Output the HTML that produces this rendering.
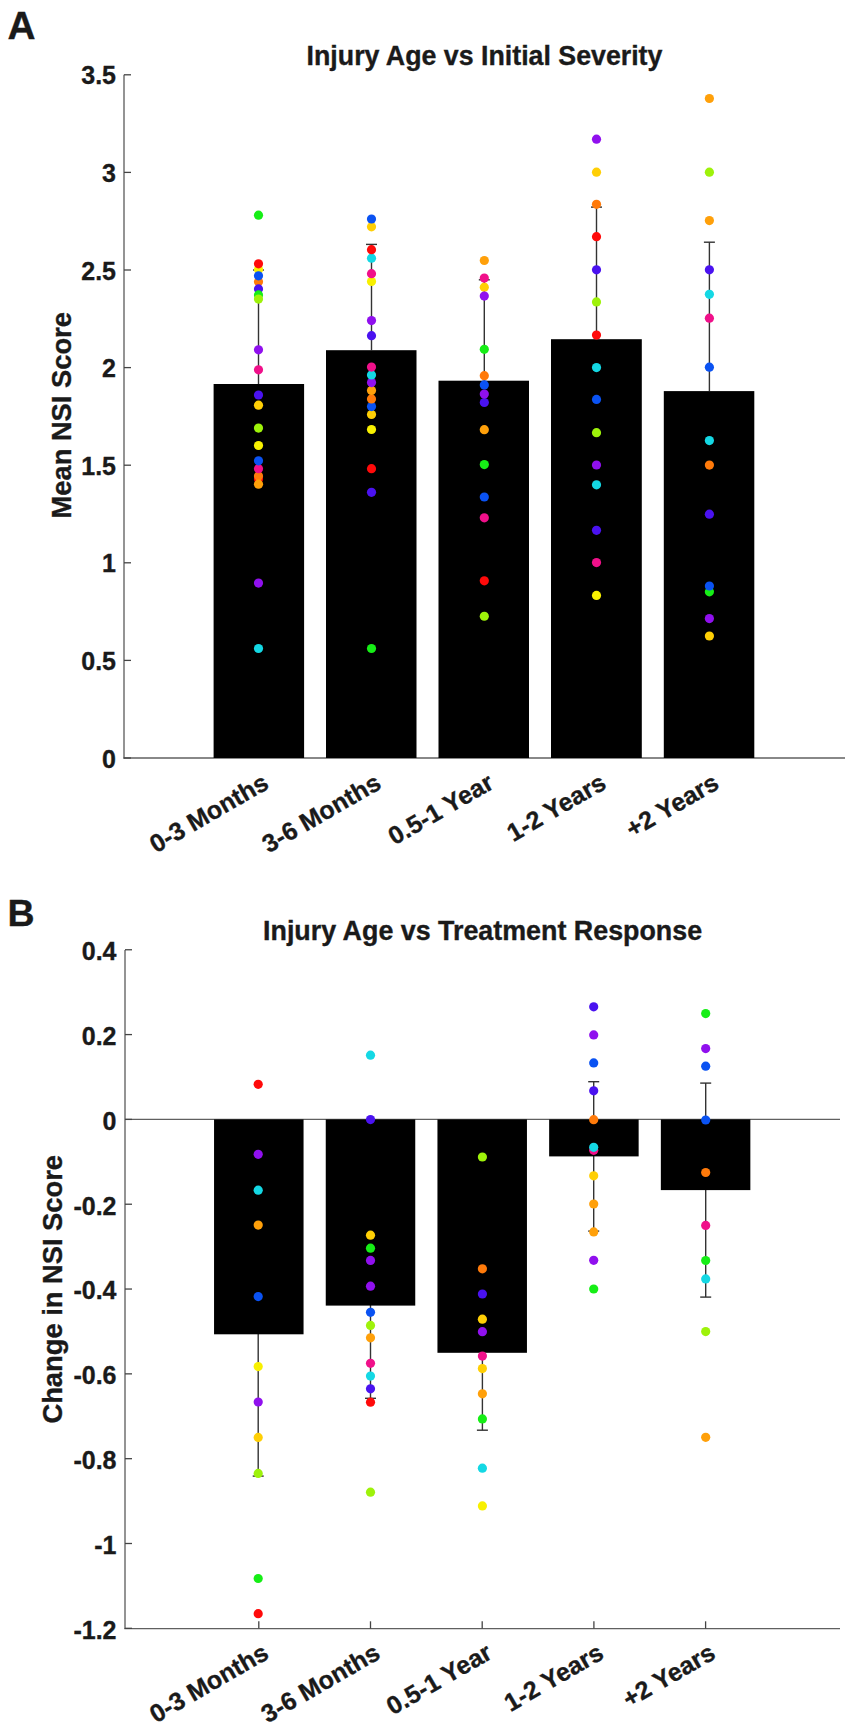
<!DOCTYPE html>
<html><head><meta charset="utf-8"><style>
html,body{margin:0;padding:0;background:#fff;}
body{width:851px;height:1728px;overflow:hidden;}
svg{display:block;}
text{font-family:"Liberation Sans",sans-serif;font-weight:bold;fill:#1a1a1a;stroke:#1a1a1a;stroke-width:0.35px;}
</style></head><body>
<svg width="851" height="1728" viewBox="0 0 851 1728">
<rect width="851" height="1728" fill="#fff"/>
<line x1="124" y1="74.8" x2="124" y2="758.5" stroke="#707070" stroke-width="1.5"/>
<line x1="123.3" y1="758.0" x2="845" y2="758.0" stroke="#606060" stroke-width="1.4"/>
<line x1="124" y1="758.0" x2="131" y2="758.0" stroke="#444" stroke-width="1.3"/>
<text x="116" y="767.6" font-size="25" text-anchor="end">0</text>
<line x1="124" y1="660.4" x2="131" y2="660.4" stroke="#444" stroke-width="1.3"/>
<text x="116" y="670.0" font-size="25" text-anchor="end">0.5</text>
<line x1="124" y1="562.8" x2="131" y2="562.8" stroke="#444" stroke-width="1.3"/>
<text x="116" y="572.4" font-size="25" text-anchor="end">1</text>
<line x1="124" y1="465.20000000000005" x2="131" y2="465.20000000000005" stroke="#444" stroke-width="1.3"/>
<text x="116" y="474.80000000000007" font-size="25" text-anchor="end">1.5</text>
<line x1="124" y1="367.6" x2="131" y2="367.6" stroke="#444" stroke-width="1.3"/>
<text x="116" y="377.20000000000005" font-size="25" text-anchor="end">2</text>
<line x1="124" y1="270.0" x2="131" y2="270.0" stroke="#444" stroke-width="1.3"/>
<text x="116" y="279.6" font-size="25" text-anchor="end">2.5</text>
<line x1="124" y1="172.4000000000001" x2="131" y2="172.4000000000001" stroke="#444" stroke-width="1.3"/>
<text x="116" y="182.00000000000009" font-size="25" text-anchor="end">3</text>
<line x1="124" y1="74.80000000000007" x2="131" y2="74.80000000000007" stroke="#444" stroke-width="1.3"/>
<text x="116" y="84.40000000000006" font-size="25" text-anchor="end">3.5</text>
<line x1="258.5" y1="270.0" x2="258.5" y2="384.0" stroke="#333" stroke-width="1.4"/>
<line x1="253.0" y1="270.0" x2="264.0" y2="270.0" stroke="#333" stroke-width="1.4"/>
<line x1="371.5" y1="244.4" x2="371.5" y2="350.2" stroke="#333" stroke-width="1.4"/>
<line x1="366.0" y1="244.4" x2="377.0" y2="244.4" stroke="#333" stroke-width="1.4"/>
<line x1="484.3" y1="279.8" x2="484.3" y2="380.7" stroke="#333" stroke-width="1.4"/>
<line x1="478.8" y1="279.8" x2="489.8" y2="279.8" stroke="#333" stroke-width="1.4"/>
<line x1="596.5" y1="207.1" x2="596.5" y2="339.2" stroke="#333" stroke-width="1.4"/>
<line x1="591.0" y1="207.1" x2="602.0" y2="207.1" stroke="#333" stroke-width="1.4"/>
<line x1="709.4" y1="242.2" x2="709.4" y2="391.1" stroke="#333" stroke-width="1.4"/>
<line x1="703.9" y1="242.2" x2="714.9" y2="242.2" stroke="#333" stroke-width="1.4"/>
<rect x="213.6" y="384.0" width="90.50000000000003" height="374.0" fill="#000"/>
<rect x="326.0" y="350.2" width="90.5" height="407.8" fill="#000"/>
<rect x="438.5" y="380.7" width="90.5" height="377.3" fill="#000"/>
<rect x="551.0" y="339.2" width="90.79999999999995" height="418.8" fill="#000"/>
<rect x="663.8" y="391.1" width="90.5" height="366.9" fill="#000"/>
<circle cx="258.5" cy="215.2" r="4.6" fill="#16ee16"/>
<circle cx="258.5" cy="269.5" r="4.6" fill="#f8f000"/>
<circle cx="258.5" cy="263.8" r="4.6" fill="#ff0a0a"/>
<circle cx="258.5" cy="281.8" r="4.6" fill="#ff7a0a"/>
<circle cx="258.5" cy="275.8" r="4.6" fill="#0a52f2"/>
<circle cx="258.5" cy="288.9" r="4.6" fill="#4a12f0"/>
<circle cx="258.5" cy="294.9" r="4.6" fill="#16ee16"/>
<circle cx="258.5" cy="299.1" r="4.6" fill="#9ef20a"/>
<circle cx="258.5" cy="349.8" r="4.6" fill="#9010ee"/>
<circle cx="258.5" cy="369.8" r="4.6" fill="#f0108a"/>
<circle cx="258.5" cy="395" r="4.6" fill="#4a12f0"/>
<circle cx="258.5" cy="405.2" r="4.6" fill="#ffcf05"/>
<circle cx="258.5" cy="428.1" r="4.6" fill="#9ef20a"/>
<circle cx="258.5" cy="445.5" r="4.6" fill="#f8f000"/>
<circle cx="258.5" cy="479" r="4.6" fill="#ff0a0a"/>
<circle cx="258.5" cy="476" r="4.6" fill="#ff7a0a"/>
<circle cx="258.5" cy="484.2" r="4.6" fill="#ffa00a"/>
<circle cx="258.5" cy="468.7" r="4.6" fill="#f0108a"/>
<circle cx="258.5" cy="460.8" r="4.6" fill="#0a52f2"/>
<circle cx="258.5" cy="583.1" r="4.6" fill="#9010ee"/>
<circle cx="258.5" cy="648.5" r="4.6" fill="#14d8e4"/>
<circle cx="371.5" cy="226.8" r="4.6" fill="#ffcf05"/>
<circle cx="371.5" cy="219" r="4.6" fill="#0a52f2"/>
<circle cx="371.5" cy="258.2" r="4.6" fill="#14d8e4"/>
<circle cx="371.5" cy="249.7" r="4.6" fill="#ff0a0a"/>
<circle cx="371.5" cy="281.5" r="4.6" fill="#f8f000"/>
<circle cx="371.5" cy="273.7" r="4.6" fill="#f0108a"/>
<circle cx="371.5" cy="320.6" r="4.6" fill="#9010ee"/>
<circle cx="371.5" cy="335.7" r="4.6" fill="#4a12f0"/>
<circle cx="371.5" cy="414.4" r="4.6" fill="#ffcf05"/>
<circle cx="371.5" cy="406.6" r="4.6" fill="#0a52f2"/>
<circle cx="371.5" cy="398.9" r="4.6" fill="#ff7a0a"/>
<circle cx="371.5" cy="390.4" r="4.6" fill="#ffa00a"/>
<circle cx="371.5" cy="382.6" r="4.6" fill="#9010ee"/>
<circle cx="371.5" cy="374.9" r="4.6" fill="#14d8e4"/>
<circle cx="371.5" cy="367.1" r="4.6" fill="#f0108a"/>
<circle cx="371.5" cy="429.5" r="4.6" fill="#f8f000"/>
<circle cx="371.5" cy="468.7" r="4.6" fill="#ff0a0a"/>
<circle cx="371.5" cy="492.3" r="4.6" fill="#4a12f0"/>
<circle cx="371.5" cy="648.5" r="4.6" fill="#16ee16"/>
<circle cx="484.3" cy="260.5" r="4.6" fill="#ffa00a"/>
<circle cx="484.3" cy="287.2" r="4.6" fill="#ffcf05"/>
<circle cx="484.3" cy="278.1" r="4.6" fill="#f0108a"/>
<circle cx="484.3" cy="296.1" r="4.6" fill="#9010ee"/>
<circle cx="484.3" cy="349.3" r="4.6" fill="#16ee16"/>
<circle cx="484.3" cy="375.7" r="4.6" fill="#ff7a0a"/>
<circle cx="484.3" cy="402.5" r="4.6" fill="#4a12f0"/>
<circle cx="484.3" cy="394.1" r="4.6" fill="#9010ee"/>
<circle cx="484.3" cy="384.9" r="4.6" fill="#0a52f2"/>
<circle cx="484.3" cy="429.7" r="4.6" fill="#ffa00a"/>
<circle cx="484.3" cy="464.6" r="4.6" fill="#16ee16"/>
<circle cx="484.3" cy="497" r="4.6" fill="#0a52f2"/>
<circle cx="484.3" cy="517.8" r="4.6" fill="#f0108a"/>
<circle cx="484.3" cy="580.8" r="4.6" fill="#ff0a0a"/>
<circle cx="484.3" cy="616.25" r="4.6" fill="#9ef20a"/>
<circle cx="596.5" cy="139.2" r="4.6" fill="#9010ee"/>
<circle cx="596.5" cy="172.2" r="4.6" fill="#ffcf05"/>
<circle cx="596.5" cy="204.3" r="4.6" fill="#ff7a0a"/>
<circle cx="596.5" cy="236.7" r="4.6" fill="#ff0a0a"/>
<circle cx="596.5" cy="269.8" r="4.6" fill="#4a12f0"/>
<circle cx="596.5" cy="301.9" r="4.6" fill="#9ef20a"/>
<circle cx="596.5" cy="335.1" r="4.6" fill="#ff0a0a"/>
<circle cx="596.5" cy="367.6" r="4.6" fill="#14d8e4"/>
<circle cx="596.5" cy="399.4" r="4.6" fill="#0a52f2"/>
<circle cx="596.5" cy="432.7" r="4.6" fill="#9ef20a"/>
<circle cx="596.5" cy="465" r="4.6" fill="#9010ee"/>
<circle cx="596.5" cy="484.8" r="4.6" fill="#14d8e4"/>
<circle cx="596.5" cy="530.3" r="4.6" fill="#4a12f0"/>
<circle cx="596.5" cy="562.6" r="4.6" fill="#f0108a"/>
<circle cx="596.5" cy="595.4" r="4.6" fill="#f8f000"/>
<circle cx="709.4" cy="98.5" r="4.6" fill="#ffa00a"/>
<circle cx="709.4" cy="172.2" r="4.6" fill="#9ef20a"/>
<circle cx="709.4" cy="220.6" r="4.6" fill="#ffa00a"/>
<circle cx="709.4" cy="269.8" r="4.6" fill="#4a12f0"/>
<circle cx="709.4" cy="294.3" r="4.6" fill="#14d8e4"/>
<circle cx="709.4" cy="318.2" r="4.6" fill="#f0108a"/>
<circle cx="709.4" cy="367.2" r="4.6" fill="#0a52f2"/>
<circle cx="709.4" cy="440.6" r="4.6" fill="#14d8e4"/>
<circle cx="709.4" cy="465.1" r="4.6" fill="#ff7a0a"/>
<circle cx="709.4" cy="514.2" r="4.6" fill="#4a12f0"/>
<circle cx="709.4" cy="591.8" r="4.6" fill="#16ee16"/>
<circle cx="709.4" cy="586" r="4.6" fill="#0a52f2"/>
<circle cx="709.4" cy="618.6" r="4.6" fill="#9010ee"/>
<circle cx="709.4" cy="636" r="4.6" fill="#ffcf05"/>
<line x1="125" y1="950" x2="125" y2="1629.1" stroke="#707070" stroke-width="1.5"/>
<line x1="124.3" y1="1628.6" x2="840" y2="1628.6" stroke="#606060" stroke-width="1.4"/>
<line x1="125" y1="1119.4" x2="840" y2="1119.4" stroke="#606060" stroke-width="1.3"/>
<line x1="125" y1="949.7600000000001" x2="132" y2="949.7600000000001" stroke="#444" stroke-width="1.3"/>
<text x="116.5" y="960.1600000000001" font-size="25" text-anchor="end">0.4</text>
<line x1="125" y1="1034.5800000000002" x2="132" y2="1034.5800000000002" stroke="#444" stroke-width="1.3"/>
<text x="116.5" y="1044.9800000000002" font-size="25" text-anchor="end">0.2</text>
<line x1="125" y1="1119.4" x2="132" y2="1119.4" stroke="#444" stroke-width="1.3"/>
<text x="116.5" y="1129.8000000000002" font-size="25" text-anchor="end">0</text>
<line x1="125" y1="1204.22" x2="132" y2="1204.22" stroke="#444" stroke-width="1.3"/>
<text x="116.5" y="1214.6200000000001" font-size="25" text-anchor="end">-0.2</text>
<line x1="125" y1="1289.0400000000002" x2="132" y2="1289.0400000000002" stroke="#444" stroke-width="1.3"/>
<text x="116.5" y="1299.4400000000003" font-size="25" text-anchor="end">-0.4</text>
<line x1="125" y1="1373.8600000000001" x2="132" y2="1373.8600000000001" stroke="#444" stroke-width="1.3"/>
<text x="116.5" y="1384.2600000000002" font-size="25" text-anchor="end">-0.6</text>
<line x1="125" y1="1458.6800000000003" x2="132" y2="1458.6800000000003" stroke="#444" stroke-width="1.3"/>
<text x="116.5" y="1469.0800000000004" font-size="25" text-anchor="end">-0.8</text>
<line x1="125" y1="1543.5" x2="132" y2="1543.5" stroke="#444" stroke-width="1.3"/>
<text x="116.5" y="1553.9" font-size="25" text-anchor="end">-1</text>
<line x1="125" y1="1628.3200000000002" x2="132" y2="1628.3200000000002" stroke="#444" stroke-width="1.3"/>
<text x="116.5" y="1638.7200000000003" font-size="25" text-anchor="end">-1.2</text>
<line x1="258.2" y1="1192.5" x2="258.2" y2="1476.1" stroke="#333" stroke-width="1.4"/>
<line x1="252.7" y1="1192.5" x2="263.7" y2="1192.5" stroke="#333" stroke-width="1.4"/>
<line x1="252.7" y1="1476.1" x2="263.7" y2="1476.1" stroke="#333" stroke-width="1.4"/>
<line x1="370.5" y1="1212.8999999999999" x2="370.5" y2="1398.3" stroke="#333" stroke-width="1.4"/>
<line x1="365.0" y1="1212.8999999999999" x2="376.0" y2="1212.8999999999999" stroke="#333" stroke-width="1.4"/>
<line x1="365.0" y1="1398.3" x2="376.0" y2="1398.3" stroke="#333" stroke-width="1.4"/>
<line x1="482.4" y1="1275.3999999999999" x2="482.4" y2="1430.2" stroke="#333" stroke-width="1.4"/>
<line x1="476.9" y1="1275.3999999999999" x2="487.9" y2="1275.3999999999999" stroke="#333" stroke-width="1.4"/>
<line x1="476.9" y1="1430.2" x2="487.9" y2="1430.2" stroke="#333" stroke-width="1.4"/>
<line x1="593.7" y1="1081.7" x2="593.7" y2="1231.1000000000001" stroke="#333" stroke-width="1.4"/>
<line x1="588.2" y1="1081.7" x2="599.2" y2="1081.7" stroke="#333" stroke-width="1.4"/>
<line x1="588.2" y1="1231.1000000000001" x2="599.2" y2="1231.1000000000001" stroke="#333" stroke-width="1.4"/>
<line x1="705.7" y1="1083.1" x2="705.7" y2="1297.1" stroke="#333" stroke-width="1.4"/>
<line x1="700.2" y1="1083.1" x2="711.2" y2="1083.1" stroke="#333" stroke-width="1.4"/>
<line x1="700.2" y1="1297.1" x2="711.2" y2="1297.1" stroke="#333" stroke-width="1.4"/>
<rect x="214.05" y="1119.4" width="89.5" height="214.89999999999986" fill="#000"/>
<rect x="325.75" y="1119.4" width="89.5" height="186.19999999999982" fill="#000"/>
<rect x="437.45" y="1119.4" width="89.50000000000006" height="233.39999999999986" fill="#000"/>
<rect x="549.15" y="1119.4" width="89.5" height="37.0" fill="#000"/>
<rect x="660.85" y="1119.4" width="89.5" height="70.69999999999982" fill="#000"/>
<line x1="258.8" y1="1621.3" x2="258.8" y2="1628.6" stroke="#444" stroke-width="1.3"/>
<line x1="370.5" y1="1621.3" x2="370.5" y2="1628.6" stroke="#444" stroke-width="1.3"/>
<line x1="482.2" y1="1621.3" x2="482.2" y2="1628.6" stroke="#444" stroke-width="1.3"/>
<line x1="593.9" y1="1621.3" x2="593.9" y2="1628.6" stroke="#444" stroke-width="1.3"/>
<line x1="705.6" y1="1621.3" x2="705.6" y2="1628.6" stroke="#444" stroke-width="1.3"/>
<circle cx="258.2" cy="1084.3" r="4.6" fill="#ff0a0a"/>
<circle cx="258.2" cy="1154.3" r="4.6" fill="#9010ee"/>
<circle cx="258.2" cy="1190.2" r="4.6" fill="#14d8e4"/>
<circle cx="258.2" cy="1225.1" r="4.6" fill="#ffa00a"/>
<circle cx="258.2" cy="1296.6" r="4.6" fill="#0a52f2"/>
<circle cx="258.2" cy="1366.6" r="4.6" fill="#f8f000"/>
<circle cx="258.2" cy="1402" r="4.6" fill="#9010ee"/>
<circle cx="258.2" cy="1437.4" r="4.6" fill="#ffcf05"/>
<circle cx="258.2" cy="1473.4" r="4.6" fill="#9ef20a"/>
<circle cx="258.2" cy="1578.5" r="4.6" fill="#16ee16"/>
<circle cx="258.2" cy="1613.7" r="4.6" fill="#ff0a0a"/>
<circle cx="370.5" cy="1055.2" r="4.6" fill="#14d8e4"/>
<circle cx="370.5" cy="1119.6" r="4.6" fill="#4a12f0"/>
<circle cx="370.5" cy="1235.2" r="4.6" fill="#ffcf05"/>
<circle cx="370.5" cy="1248.2" r="4.6" fill="#16ee16"/>
<circle cx="370.5" cy="1260.4" r="4.6" fill="#9010ee"/>
<circle cx="370.5" cy="1286.2" r="4.6" fill="#9010ee"/>
<circle cx="370.5" cy="1312.3" r="4.6" fill="#0a52f2"/>
<circle cx="370.5" cy="1325.4" r="4.6" fill="#9ef20a"/>
<circle cx="370.5" cy="1337.8" r="4.6" fill="#ffa00a"/>
<circle cx="370.5" cy="1363.3" r="4.6" fill="#f0108a"/>
<circle cx="370.5" cy="1376.1" r="4.6" fill="#14d8e4"/>
<circle cx="370.5" cy="1388.8" r="4.6" fill="#4a12f0"/>
<circle cx="370.5" cy="1402.2" r="4.6" fill="#ff0a0a"/>
<circle cx="370.5" cy="1492.2" r="4.6" fill="#9ef20a"/>
<circle cx="482.4" cy="1157" r="4.6" fill="#9ef20a"/>
<circle cx="482.4" cy="1268.8" r="4.6" fill="#ff7a0a"/>
<circle cx="482.4" cy="1294" r="4.6" fill="#4a12f0"/>
<circle cx="482.4" cy="1319.2" r="4.6" fill="#ffcf05"/>
<circle cx="482.4" cy="1331.7" r="4.6" fill="#9010ee"/>
<circle cx="482.4" cy="1356.1" r="4.6" fill="#f0108a"/>
<circle cx="482.4" cy="1368.6" r="4.6" fill="#ffcf05"/>
<circle cx="482.4" cy="1393.8" r="4.6" fill="#ffa00a"/>
<circle cx="482.4" cy="1418.9" r="4.6" fill="#16ee16"/>
<circle cx="482.4" cy="1468.2" r="4.6" fill="#14d8e4"/>
<circle cx="482.4" cy="1505.9" r="4.6" fill="#f8f000"/>
<circle cx="593.7" cy="1006.8" r="4.6" fill="#4a12f0"/>
<circle cx="593.7" cy="1034.9" r="4.6" fill="#9010ee"/>
<circle cx="593.7" cy="1062.9" r="4.6" fill="#0a52f2"/>
<circle cx="593.7" cy="1090.8" r="4.6" fill="#4a12f0"/>
<circle cx="593.7" cy="1119.7" r="4.6" fill="#ff7a0a"/>
<circle cx="593.7" cy="1150.3" r="4.6" fill="#f0108a"/>
<circle cx="593.7" cy="1147.3" r="4.6" fill="#14d8e4"/>
<circle cx="593.7" cy="1175.8" r="4.6" fill="#ffcf05"/>
<circle cx="593.7" cy="1204" r="4.6" fill="#ffa00a"/>
<circle cx="593.7" cy="1231.9" r="4.6" fill="#ffa00a"/>
<circle cx="593.7" cy="1260.3" r="4.6" fill="#9010ee"/>
<circle cx="593.7" cy="1289" r="4.6" fill="#16ee16"/>
<circle cx="705.7" cy="1013.6" r="4.6" fill="#16ee16"/>
<circle cx="705.7" cy="1048.6" r="4.6" fill="#9010ee"/>
<circle cx="705.7" cy="1066.2" r="4.6" fill="#0a52f2"/>
<circle cx="705.7" cy="1120" r="4.6" fill="#0a52f2"/>
<circle cx="705.7" cy="1172.5" r="4.6" fill="#ff7a0a"/>
<circle cx="705.7" cy="1225.4" r="4.6" fill="#f0108a"/>
<circle cx="705.7" cy="1260.5" r="4.6" fill="#16ee16"/>
<circle cx="705.7" cy="1278.9" r="4.6" fill="#14d8e4"/>
<circle cx="705.7" cy="1331.6" r="4.6" fill="#9ef20a"/>
<circle cx="705.7" cy="1437.3" r="4.6" fill="#ffa00a"/>
<text x="7.4" y="38.5" font-size="38.8" text-anchor="start">A</text>
<text x="7.5" y="925.5" font-size="37.5" text-anchor="start">B</text>
<text x="484.5" y="65" font-size="26.75" text-anchor="middle">Injury Age vs Initial Severity</text>
<text x="482.6" y="940.3" font-size="26.85" text-anchor="middle">Injury Age vs Treatment Response</text>
<text x="71" y="415.3" font-size="27.3" text-anchor="middle" transform="rotate(-90 71 415.3)">Mean NSI Score</text>
<text x="62" y="1289.3" font-size="27.3" text-anchor="middle" transform="rotate(-90 62 1289.3)">Change in NSI Score</text>
<text x="261.05" y="771.5" font-size="25" text-anchor="end" transform="rotate(-30 261.05 771.5)" dominant-baseline="hanging">0-3 Months</text>
<text x="373.59999999999997" y="771.5" font-size="25" text-anchor="end" transform="rotate(-30 373.59999999999997 771.5)" dominant-baseline="hanging">3-6 Months</text>
<text x="486.15" y="771.5" font-size="25" text-anchor="end" transform="rotate(-30 486.15 771.5)" dominant-baseline="hanging">0.5-1 Year</text>
<text x="598.7" y="771.5" font-size="25" text-anchor="end" transform="rotate(-30 598.7 771.5)" dominant-baseline="hanging">1-2 Years</text>
<text x="711.25" y="771.5" font-size="25" text-anchor="end" transform="rotate(-30 711.25 771.5)" dominant-baseline="hanging">+2 Years</text>
<text x="261.0" y="1641.5" font-size="25" text-anchor="end" transform="rotate(-30 261.0 1641.5)" dominant-baseline="hanging">0-3 Months</text>
<text x="372.7" y="1641.5" font-size="25" text-anchor="end" transform="rotate(-30 372.7 1641.5)" dominant-baseline="hanging">3-6 Months</text>
<text x="484.4" y="1641.5" font-size="25" text-anchor="end" transform="rotate(-30 484.4 1641.5)" dominant-baseline="hanging">0.5-1 Year</text>
<text x="596.1" y="1641.5" font-size="25" text-anchor="end" transform="rotate(-30 596.1 1641.5)" dominant-baseline="hanging">1-2 Years</text>
<text x="707.8000000000001" y="1641.5" font-size="25" text-anchor="end" transform="rotate(-30 707.8000000000001 1641.5)" dominant-baseline="hanging">+2 Years</text>
</svg></body></html>
